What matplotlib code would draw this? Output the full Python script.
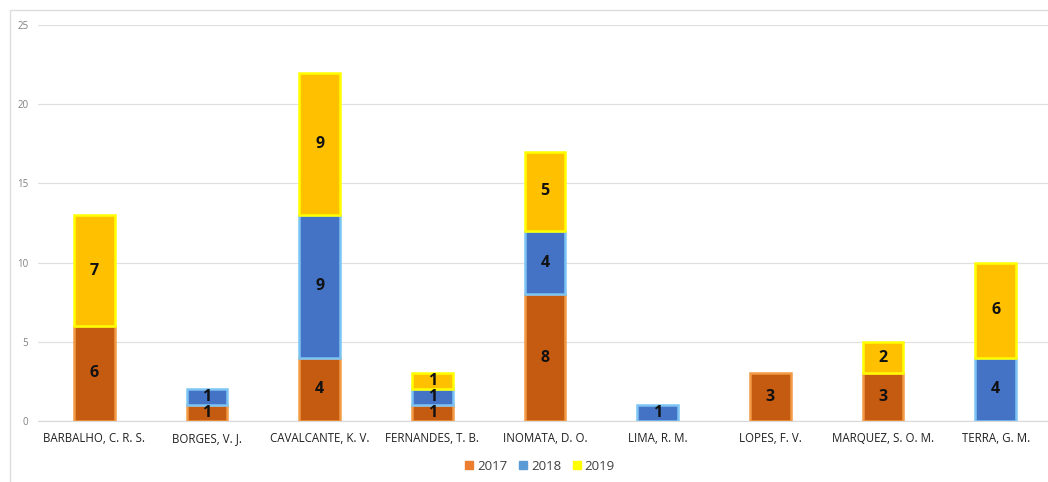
import matplotlib
matplotlib.use("Agg")
import matplotlib.pyplot as plt
from matplotlib.patches import Rectangle, Patch
import numpy as np

authors = ["BARBALHO, C. R. S.", "BORGES, V. J.", "CAVALCANTE, K. V.",
           "FERNANDES, T. B.", "INOMATA, D. O.", "LIMA, R. M.",
           "LOPES, F. V.", "MARQUEZ, S. O. M.", "TERRA, G. M."]
years = ["2017", "2018", "2019"]
v2017 = [6, 1, 4, 1, 8, 0, 3, 3, 0]
v2018 = [0, 1, 9, 1, 4, 1, 0, 0, 4]
v2019 = [7, 0, 9, 1, 5, 0, 0, 2, 6]
y_ticks = [0, 5, 10, 15, 20, 25]

fills = ["#C55A11", "#4472C4", "#FFC000"]
edges = ["#F39A45", "#7CC4F4", "#FFFF00"]
legend_cols = ["#ED7D31", "#5B9BD5", "#FFFF00"]

plt.rcParams["font.family"] = ["Open Sans", "DejaVu Sans"]

fig = plt.figure(figsize=(10.48, 4.82), dpi=100)
fig.patch.set_facecolor("white")

# outer chart frame
fig.add_artist(Rectangle((10 / 1048, -0.01), 1.0, 1 - 10 / 482 + 0.01,
                         transform=fig.transFigure, fill=False,
                         edgecolor="#DDDDDD", linewidth=1.0))

ax = fig.add_axes([38 / 1048, 1 - 421 / 482, 1014 / 1048, 396 / 482])
x = np.arange(len(authors))
bottom = np.zeros(len(authors))
for vals, fc, ec in zip([v2017, v2018, v2019], fills, edges):
    vals = np.array(vals, dtype=float)
    nz = vals > 0
    ax.bar(x[nz], vals[nz], width=0.36, bottom=bottom[nz], color=fc,
           edgecolor=ec, linewidth=1.8, zorder=3)
    for xi, b, v in zip(x[nz], bottom[nz], vals[nz]):
        ax.text(xi, b + v / 2, f"{int(v)}", ha="center", va="center",
                fontsize=11.5, fontweight="bold", color="#111111", zorder=4)
    bottom += vals

ax.set_xlim(-0.5, len(authors) - 0.5)
ax.set_ylim(0, 25)
ax.set_yticks(y_ticks)
ax.set_yticklabels([str(t) for t in y_ticks], fontsize=7, color="#808080")
ax.set_xticks(x)
ax.set_xticklabels(authors, fontsize=8.3, color="#202020")
ax.tick_params(axis="both", length=0)
ax.tick_params(axis="y", pad=7)
ax.tick_params(axis="x", pad=8)
ax.grid(axis="y", color="#E0E0E0", linewidth=0.9, zorder=0)
for s in ["top", "right", "left"]:
    ax.spines[s].set_visible(False)
ax.spines["bottom"].set_color("#D9D9D9")
ax.spines["bottom"].set_zorder(1)

handles = [Patch(facecolor=c, edgecolor=c) for c in legend_cols]
fig.legend(handles, years, loc="center", bbox_to_anchor=(540 / 1048, 1 - 466 / 482),
           ncol=3, frameon=False, fontsize=9.5, handlelength=0.6, handleheight=0.6,
           handletextpad=0.3, columnspacing=0.9, labelcolor="#404040")

fig.savefig("out.png", dpi=100, facecolor="white")
